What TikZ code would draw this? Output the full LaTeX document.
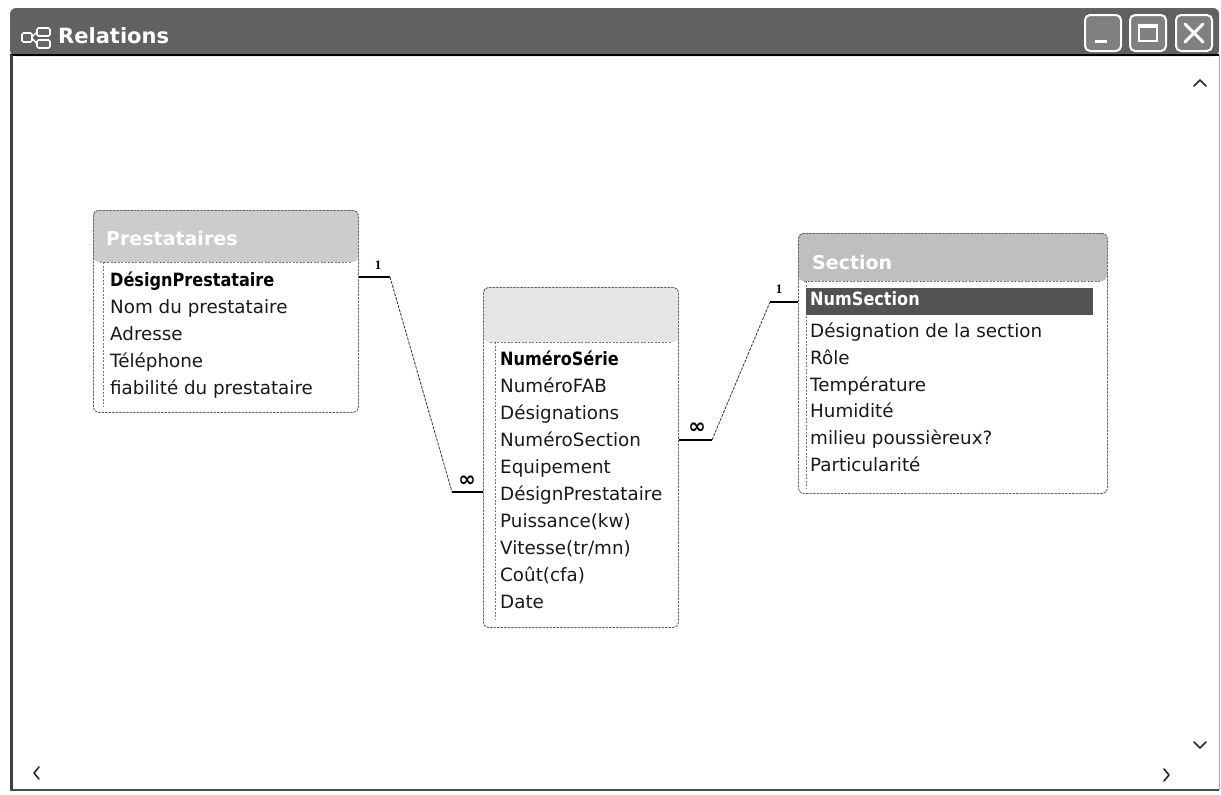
\documentclass[tikz,border=0pt]{standalone}
\usepackage{fontspec}
\setmainfont{DejaVu Sans}
\newfontfamily\keyfont[FakeStretch=0.88]{DejaVu Sans}
\newfontfamily\labfont{Liberation Serif}
\usetikzlibrary{calc}

\tikzset{
  tablebox/.style={draw=black!60, line width=0.9pt, dash pattern=on 2.5pt off 1pt,
                   rounded corners=5pt, minimum width=#1, inner sep=0pt},
  rowtext/.style={anchor=west, inner sep=0pt, text height=13pt, text depth=4pt},
  field/.style={rowtext, font=\fontsize{18.3}{18}\selectfont, text=black!90},
  keyfield/.style={rowtext, font=\keyfont\bfseries\fontsize{18.3}{18}\selectfont},
  tabletitle/.style={anchor=west, inner sep=0pt, text=white,
                     font=\bfseries\fontsize{19}{19}\selectfont},
  innerline/.style={draw=black!55, line width=0.7pt, dash pattern=on 2pt off 1.5pt},
  stub/.style={line width=2.4pt, black},
  relline/.style={line width=0.8pt, black!80, dash pattern=on 3pt off 1.2pt},
  card/.style={inner sep=0pt, font=\labfont\bfseries\fontsize{13}{13}\selectfont},
  many/.style={inner sep=0pt, font=\bfseries\fontsize{21}{21}\selectfont},
  winbtn/.style={draw=white, line width=2pt, fill=black!50, rounded corners=5pt,
                 minimum width=36pt, minimum height=36pt, inner sep=0pt},
  chevron/.style={line width=1.6pt, line cap=round, line join=round, black!85}
}

\begin{document}
\begin{tikzpicture}[x=1pt, y=-1pt]
\useasboundingbox (0,0) rectangle (1221,795);
\fill[white] (0,0) rectangle (1221,795);

% ---------- window frame ----------
\fill[black!62, rounded corners=6pt] (10,8) rectangle (1219,56);
\draw[black, line width=2pt] (10,55) -- (1219,55);
\draw[black!75, line width=3pt] (11,55) -- (11,791);
\draw[black!70, line width=2pt] (10,790) -- (1219,790);
\draw[black!35, line width=1pt] (1219,55) -- (1219,790);

% title bar icon
\foreach \bx/\by/\bw/\bh in {22/33/10/9, 37/28/13/8, 37/40/13/8}
  \draw[white, fill=black!60, line width=1.6pt, rounded corners=1.5pt]
    (\bx,\by) rectangle ++(\bw,\bh);
\draw[white, line width=1.4pt] (32,37) -- (37,32) (32,38) -- (37,44);
\node[tabletitle, font=\bfseries\fontsize{21}{21}\selectfont] (wintitle) at (58,36) {Relations};

% window buttons
\node[winbtn] (bmin) at (1103,33) {};
\node[winbtn] (bmax) at (1148,33) {};
\node[winbtn] (bclose) at (1194,33) {};
\draw[white, line width=3pt] ($(bmin.center)+(-8,8)$) -- ($(bmin.center)+(4,8)$);
\draw[white, line width=1.6pt] ($(bmax.center)+(-9,-8)$) rectangle ($(bmax.center)+(9,8)$);
\draw[white, line width=3pt] ($(bmax.center)+(-9,-7)$) -- ($(bmax.center)+(9,-7)$);
\draw[white, line width=3pt, line cap=round] ($(bclose.center)+(-9,-9)$) -- ($(bclose.center)+(9,9)$)
                                               ($(bclose.center)+(-9,9)$) -- ($(bclose.center)+(9,-9)$);

% scroll arrows
\draw[chevron] (1194,86) -- (1200,80) -- (1206,86);
\draw[chevron] (1194,742) -- (1200,748) -- (1206,742);
\draw[chevron] (39,767) -- (34,773) -- (39,779);
\draw[chevron] (1164,769) -- (1169,775) -- (1164,781);

% ---------- table: Prestataires ----------
\fill[black!20, rounded corners=5pt] (93,210) rectangle (358,262);
\node[tablebox=265pt, minimum height=202pt, anchor=north west] (prest) at (93,210) {};
\draw[innerline] (100,262) -- (351,262);
\draw[innerline] (103,262) -- (103,406);
\node[tabletitle] (prestT) at (106,238) {Prestataires};
\node[keyfield] (p1) at (110,282) {DésignPrestataire};
\node[field] (p2) at (110,309) {Nom du prestataire};
\node[field] (p3) at (110,336) {Adresse};
\node[field] (p4) at (110,363) {Téléphone};
\node[field] (p5) at (110,390) {fiabilité du prestataire};

% ---------- table: Equipements ----------
\fill[black!10, rounded corners=5pt] (483,287) rectangle (678,342);
\node[tablebox=195pt, minimum height=340pt, anchor=north west] (equip) at (483,287) {};
\draw[innerline] (490,342) -- (672,342);
\draw[innerline] (495,342) -- (495,620);
\node[keyfield] (e1) at (500,361) {NuméroSérie};
\node[field] (e2) at (500,388) {NuméroFAB};
\node[field] (e3) at (500,415) {Désignations};
\node[field] (e4) at (500,442) {NuméroSection};
\node[field] (e5) at (500,469) {Equipement};
\node[field] (e6) at (500,496) {DésignPrestataire};
\node[field] (e7) at (500,523) {Puissance(kw)};
\node[field] (e8) at (500,550) {Vitesse(tr/mn)};
\node[field] (e9) at (500,577) {Coût(cfa)};
\node[field] (e10) at (500,604) {Date};

% ---------- table: Section ----------
\fill[black!25, rounded corners=5pt] (798,233) rectangle (1107,281);
\node[tablebox=309pt, minimum height=260pt, anchor=north west] (section) at (798,233) {};
\draw[innerline] (804,281) -- (1100,281);
\draw[innerline] (806,281) -- (806,488);
\node[tabletitle] (sectT) at (812,262) {Section};
\fill[black!68] (806,288) rectangle (1093,315);
\node[keyfield, text=white] (s1) at (810,301) {NumSection};
\node[field] (s2) at (810,333) {Désignation de la section};
\node[field] (s3) at (810,360) {Rôle};
\node[field] (s4) at (810,387) {Température};
\node[field] (s5) at (810,413) {Humidité};
\node[field] (s6) at (810,440) {milieu poussièreux?};
\node[field] (s7) at (810,467) {Particularité};

% ---------- relationships ----------
\coordinate (la) at (390,277);
\coordinate (lb) at (452,492);
\draw[stub] (prest.east |- la) -- (la);
\draw[relline] (la) -- (lb);
\draw[stub] (lb) -- (equip.west |- lb);
\node[card] (l1) at (378,265) {1};
\node[many] (linf) at (467,481) {∞};

\coordinate (ra) at (712,440);
\coordinate (rb) at (770,302);
\draw[stub] (equip.east |- ra) -- (ra);
\draw[relline] (ra) -- (rb);
\draw[stub] (rb) -- (section.west |- rb);
\node[card] (r1) at (779,289) {1};
\node[many] (rinf) at (697,428) {∞};
\end{tikzpicture}
\end{document}
